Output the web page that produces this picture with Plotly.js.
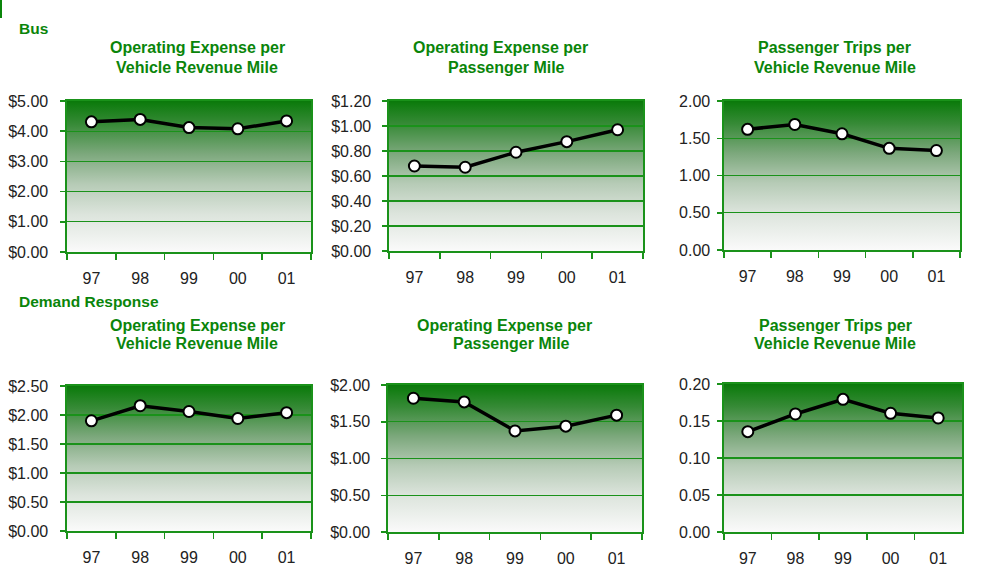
<!DOCTYPE html>
<html>
<head>
<meta charset="utf-8">
<script src="https://cdn.plot.ly/plotly-3.0.1.min.js"></script>
<style>html,body{margin:0;padding:0;background:#fff;}#chart{width:992px;height:568px;}</style>
</head>
<body>
<div id="chart"></div>
<script>
// ---- data ----
const years = ["97", "98", "99", "00", "01"];

const busOpExpPerVRM = [4.31, 4.39, 4.12, 4.08, 4.34];
const busOpExpPerPM = [0.68, 0.67, 0.79, 0.875, 0.97];
const busTripsPerVRM = [1.62, 1.685, 1.56, 1.365, 1.335];

const drOpExpPerVRM = [1.90, 2.16, 2.06, 1.94, 2.04];
const drOpExpPerPM = [1.82, 1.77, 1.375, 1.44, 1.59];
const drTripsPerVRM = [0.1356, 0.1595, 0.1793, 0.1604, 0.1541];

const sectionLabels = ["Bus", "Demand Response"];
const titleLine1 = ["Operating Expense per", "Operating Expense per", "Passenger Trips per"];
const titleLine2 = ["Vehicle Revenue Mile", "Passenger Mile", "Vehicle Revenue Mile"];

const yMax = [5, 1.2, 2, 2.5, 2, 0.2];
const yStep = [1, 0.2, 0.5, 0.5, 0.5, 0.05];
const yFormat = ["$.2f", "$.2f", ".2f", "$.2f", "$.2f", ".2f"];

// ---- layout helpers ----
const W = 992, H = 568;
const GREEN = "#0a850a";
const LINEGREEN = "#1a921a";
const series = [busOpExpPerVRM, busOpExpPerPM, busTripsPerVRM, drOpExpPerVRM, drOpExpPerPM, drTripsPerVRM];
// plot boxes in pixels [left, right, top, bottom]
const boxes = [
  [67, 311, 101, 252], [389, 643, 101, 251], [724, 960, 101, 250],
  [67, 311, 386, 531], [388, 642, 385, 532], [724, 962, 384, 532]
];
const yStandoff = [9, 8, 4, 9, 8, 4];
const titleCenters = [[197, 197], [500, 506], [834, 835], [197, 197], [504, 511], [835, 835]];
const titleY = [[47, 67], [47, 67], [47, 67], [325, 343], [325, 343], [325, 343]];

const svg = '<svg xmlns="http://www.w3.org/2000/svg" width="100" height="100" viewBox="0 0 100 100" preserveAspectRatio="none">' +
  '<defs><linearGradient id="g" x1="0" y1="0" x2="0" y2="1">' +
  '<stop offset="0" stop-color="#0a7a0a"/>' +
  '<stop offset="0.15" stop-color="#368a36"/>' +
  '<stop offset="0.35" stop-color="#7ca87c"/>' +
  '<stop offset="0.55" stop-color="#b6cbb6"/>' +
  '<stop offset="0.75" stop-color="#dce4dc"/>' +
  '<stop offset="1" stop-color="#fafafa"/>' +
  '</linearGradient></defs><rect x="0" y="0" width="100" height="100" fill="url(#g)"/></svg>';
const gradURI = 'data:image/svg+xml;charset=utf-8,' + encodeURIComponent(svg);

const traces = [];
const layout = {
  width: W, height: H,
  margin: {l: 0, r: 0, t: 0, b: 0},
  paper_bgcolor: "#ffffff",
  plot_bgcolor: "rgba(0,0,0,0)",
  showlegend: false,
  font: {family: "'Liberation Sans', Arial, sans-serif", size: 14, color: "#222222"},
  annotations: [],
  images: [],
  shapes: [{type: "rect", xref: "paper", yref: "paper", x0: 0, x1: 2 / W, y0: 1 - 18 / H, y1: 1,
            fillcolor: GREEN, line: {width: 0}}]
};

series.forEach((vals, i) => {
  const n = i + 1;
  const xa = n === 1 ? "x" : "x" + n;
  const ya = n === 1 ? "y" : "y" + n;
  const xk = n === 1 ? "xaxis" : "xaxis" + n;
  const yk = n === 1 ? "yaxis" : "yaxis" + n;
  const b = boxes[i];
  traces.push({
    type: "scatter", mode: "lines+markers", x: years, y: vals, xaxis: xa, yaxis: ya,
    line: {color: "#000000", width: 3.5},
    marker: {symbol: "circle", size: 11, color: "#ffffff", line: {color: "#000000", width: 2}},
    cliponaxis: false, hoverinfo: "x+y"
  });
  layout[xk] = {
    domain: [b[0] / W, b[1] / W], anchor: ya, type: "category", range: [-0.5, 4.5],
    showgrid: false, showline: true, mirror: true, linecolor: LINEGREEN, linewidth: 1.6,
    ticks: "outside", ticklen: 6, tickwidth: 1.5, tickcolor: LINEGREEN, tickson: "boundaries",
    ticklabelstandoff: 11, tickfont: {size: 16, color: "#222222"}, fixedrange: true
  };
  layout[yk] = {
    domain: [1 - b[3] / H, 1 - b[2] / H], anchor: xa, range: [0, yMax[i]], dtick: yStep[i], tick0: 0,
    tickformat: yFormat[i], showgrid: true, gridcolor: LINEGREEN, gridwidth: 1.2,
    showline: true, mirror: true, linecolor: LINEGREEN, linewidth: 1.6, zeroline: false,
    ticks: "outside", ticklen: 5, tickwidth: 1.5, tickcolor: LINEGREEN, ticklabelstandoff: yStandoff[i],
    tickfont: {size: 16, color: "#222222"}, fixedrange: true
  };
  layout.images.push({
    source: gradURI, xref: xa + " domain", yref: ya + " domain", x: 0, y: 1, sizex: 1, sizey: 1,
    xanchor: "left", yanchor: "top", sizing: "stretch", layer: "below"
  });
  const t = i % 3;
  [titleLine1[t], titleLine2[t]].forEach((txt, k) => {
    layout.annotations.push({
      text: "<b>" + txt + "</b>", xref: "paper", yref: "paper",
      x: titleCenters[i][k] / W, y: 1 - titleY[i][k] / H, xanchor: "center", yanchor: "middle",
      showarrow: false, font: {size: 16, color: GREEN}
    });
  });
});

sectionLabels.forEach((s, k) => {
  layout.annotations.push({
    text: "<b>" + s + "</b>", xref: "paper", yref: "paper", x: 17 / W, y: 1 - [28, 301][k] / H,
    xanchor: "left", yanchor: "middle", showarrow: false, font: {size: 15.5, color: GREEN}
  });
});

Plotly.newPlot("chart", traces, layout, {displayModeBar: false, staticPlot: true});
</script>
</body>
</html>
